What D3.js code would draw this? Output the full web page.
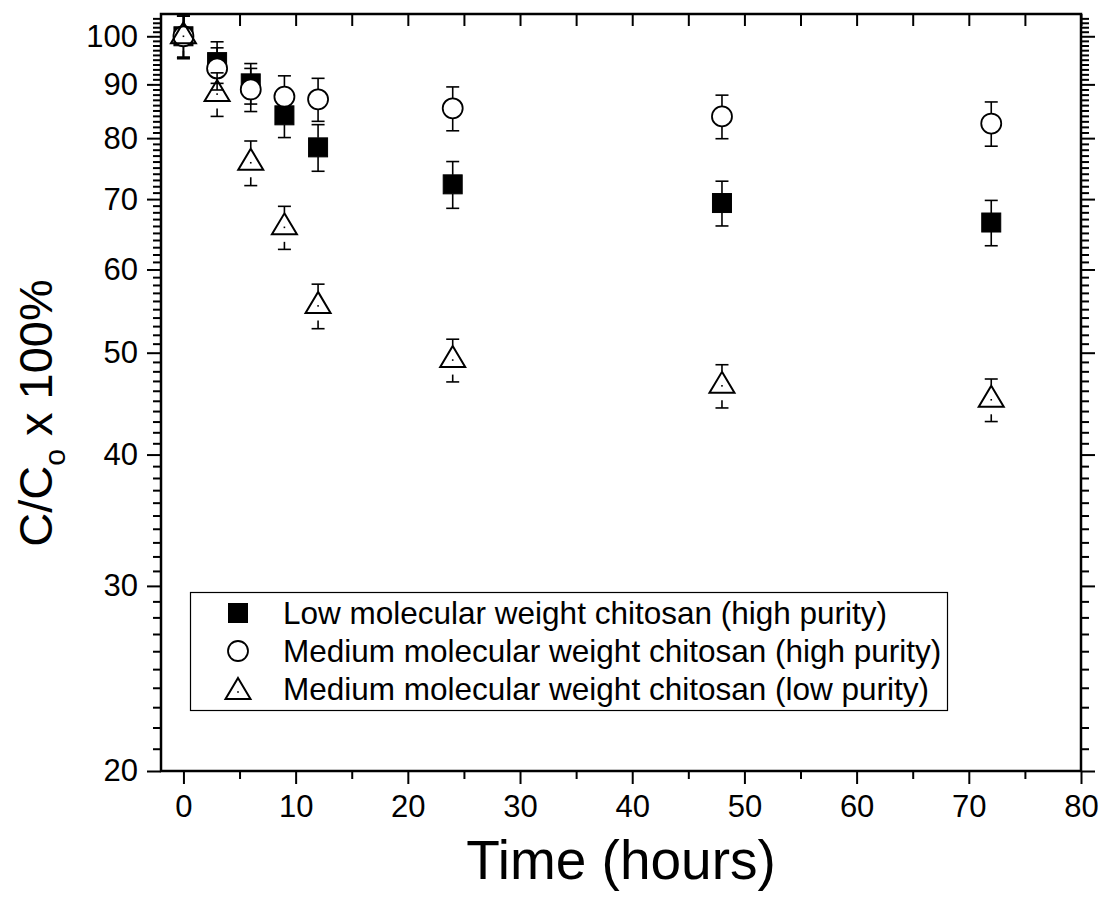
<!DOCTYPE html>
<html><head><meta charset="utf-8">
<script src="https://cdn.jsdelivr.net/npm/d3@7"></script>
<style>
html,body{margin:0;padding:0;background:#fff;}
svg text{font-family:"Liberation Sans",Arial,sans-serif;fill:#000;}
</style></head>
<body>
<svg id="chart" width="1102" height="902"></svg>
<script>
// ---- data ----
const times = [0, 3, 6, 9, 12, 24, 48, 72];
const seriesNames = [
  "Low molecular weight chitosan (high purity)",
  "Medium molecular weight chitosan (high purity)",
  "Medium molecular weight chitosan (low purity)"
];
const lowHigh      = [100, 94.5, 90.2, 84.1, 78.4, 72.3, 69.4, 66.5];
const lowHighErr   = [4.5, 4.3, 4.0, 4.0, 4.0, 3.7, 3.4, 3.3];
const medHigh      = [100, 93.2, 89.0, 87.6, 87.1, 85.4, 83.9, 82.6];
const medHighErr   = [4.5, 4.3, 4.2, 4.1, 4.1, 4.1, 4.0, 4.0];
const medLow       = [100, 88.1, 75.8, 65.8, 55.4, 49.2, 46.5, 45.1];
const medLowErr    = [4.8, 4.2, 3.7, 3.1, 2.7, 2.3, 2.2, 2.1];
const xTicks = [0, 10, 20, 30, 40, 50, 60, 70, 80];
const yTicks = [20, 30, 40, 50, 60, 70, 80, 90, 100];

// ---- layout ----
const svg = d3.select("#chart");
const L = 161, R = 1081, T = 14, B = 771;
const x = d3.scaleLinear().domain([-2, 80]).range([L, R]);
const y = d3.scaleLog().domain([20, 105]).range([B, T]);

const yMinor = d3.range(21, 105).filter(v => v % 10 !== 0);
const xMinor = d3.range(5, 80, 10);

// axes
const gLeft = svg.append("g").attr("transform", `translate(${L},0)`)
  .call(d3.axisLeft(y).tickValues(yTicks).tickFormat(d3.format("d")).tickSize(14).tickPadding(9));
const gLeftMinor = svg.append("g").attr("transform", `translate(${L},0)`)
  .call(d3.axisLeft(y).tickValues(yMinor).tickFormat("").tickSize(8));
const gRight = svg.append("g").attr("transform", `translate(${R},0)`)
  .call(d3.axisLeft(y).tickValues(yTicks).tickFormat("").tickSize(-14));
const gRightMinor = svg.append("g").attr("transform", `translate(${R},0)`)
  .call(d3.axisLeft(y).tickValues(yMinor).tickFormat("").tickSize(-8));
const gBottom = svg.append("g").attr("transform", `translate(0,${B})`)
  .call(d3.axisBottom(x).tickValues(xTicks).tickFormat(d3.format("d")).tickSize(13).tickPadding(8));
const gBottomMinor = svg.append("g").attr("transform", `translate(0,${B})`)
  .call(d3.axisBottom(x).tickValues(xMinor).tickFormat("").tickSize(8));
const gTop = svg.append("g").attr("transform", `translate(0,${T})`)
  .call(d3.axisTop(x).tickValues(d3.range(0, 81, 5)).tickFormat("").tickSize(-12));

[gLeft, gLeftMinor, gRight, gRightMinor, gBottom, gBottomMinor, gTop].forEach(g => {
  g.select(".domain").remove();
  g.selectAll(".tick line").attr("stroke", "#000").attr("stroke-width", 2);
  g.selectAll(".tick text").style("font-size", "31px").attr("fill", "#000");
});
gBottom.selectAll(".tick text").attr("dy", "0.8em");

// frame
svg.append("rect").attr("x", L).attr("y", T).attr("width", R - L).attr("height", B - T)
  .attr("fill", "none").attr("stroke", "#000").attr("stroke-width", 2.5);

// series drawing
const plot = svg.append("g");
function errorBars(vals, errs, gap) {
  const g = plot.append("g").attr("stroke", "#000").attr("stroke-width", 1.6).attr("fill", "none");
  times.forEach((t, i) => {
    const cx = x(t), cy = y(vals[i]);
    const yt = Math.max(y(vals[i] + errs[i]), T), yb = y(vals[i] - errs[i]);
    if (cy - gap > yt) {
      g.append("line").attr("x1", cx).attr("x2", cx).attr("y1", cy - gap).attr("y2", yt);
      g.append("line").attr("x1", cx - 6.5).attr("x2", cx + 6.5).attr("y1", yt).attr("y2", yt);
    }
    if (cy + gap < yb) {
      g.append("line").attr("x1", cx).attr("x2", cx).attr("y1", cy + gap).attr("y2", yb);
      g.append("line").attr("x1", cx - 6.5).attr("x2", cx + 6.5).attr("y1", yb).attr("y2", yb);
    }
  });
}
function square(g, cx, cy, s) {
  g.append("rect").attr("x", cx - s / 2).attr("y", cy - s / 2).attr("width", s).attr("height", s)
    .attr("fill", "#000").attr("stroke", "#000").attr("stroke-width", 1);
}
function circle(g, cx, cy, r) {
  g.append("circle").attr("cx", cx).attr("cy", cy).attr("r", r)
    .attr("fill", "#fff").attr("stroke", "#000").attr("stroke-width", 1.8);
}
function triangle(g, cx, cy, w, h) {
  g.append("path").attr("d", `M${cx},${cy - h * 2 / 3}L${cx + w / 2},${cy + h / 3}L${cx - w / 2},${cy + h / 3}Z`)
    .attr("fill", "none").attr("stroke", "#000").attr("stroke-width", 2);
  g.append("rect").attr("x", cx - 0.8).attr("y", cy - 0.8).attr("width", 1.6).attr("height", 1.6).attr("fill", "#000");
}

errorBars(lowHigh, lowHighErr, 9.5);
const gSq = plot.append("g");
times.forEach((t, i) => square(gSq, x(t), y(lowHigh[i]), 19));

errorBars(medHigh, medHighErr, 10);
const gCi = plot.append("g");
times.forEach((t, i) => circle(gCi, x(t), y(medHigh[i]), 10));

errorBars(medLow, medLowErr, 14.5);
const gTr = plot.append("g");
times.forEach((t, i) => triangle(gTr, x(t), y(medLow[i]), 25, 21));

// legend
const leg = svg.append("g");
leg.append("rect").attr("x", 190.5).attr("y", 592.5).attr("width", 757).attr("height", 118)
  .attr("fill", "#fff").attr("stroke", "#000").attr("stroke-width", 1.2);
const rowsY = [613, 651, 689];
square(leg, 238, rowsY[0], 19);
circle(leg, 238, rowsY[1], 10);
triangle(leg, 238, rowsY[2] + 3, 25, 21);
seriesNames.forEach((n, i) => {
  leg.append("text").attr("x", 283).attr("y", rowsY[i]).attr("dy", "0.36em")
    .style("font-size", "31.5px").text(n);
});

// axis titles
svg.append("text").attr("x", (L + R) / 2).attr("y", 879).attr("text-anchor", "middle")
  .style("font-size", "55px").text("Time (hours)");
const yt = svg.append("text").attr("transform", "translate(52,413) rotate(-90)")
  .attr("text-anchor", "middle").style("font-size", "47px");
yt.append("tspan").text("C/C");
yt.append("tspan").attr("dy", 13).style("font-size", "30px").text("o");
yt.append("tspan").attr("dy", -13).text(" x 100%");
</script>
</body></html>
